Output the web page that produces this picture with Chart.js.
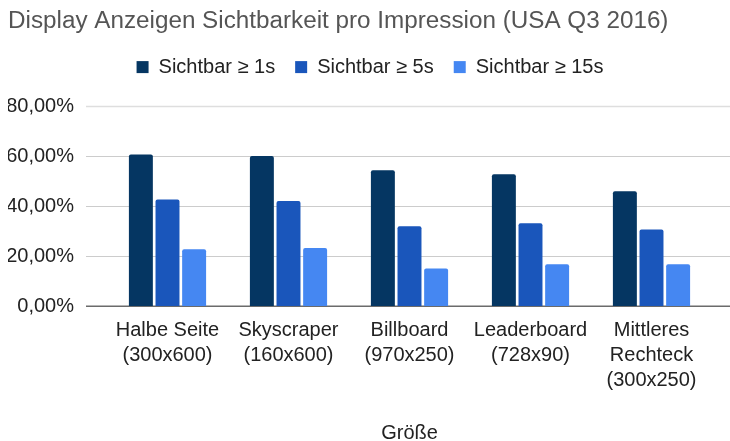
<!DOCTYPE html>
<html>
<head>
<meta charset="utf-8">
<script src="https://cdn.jsdelivr.net/npm/chart.js@4/dist/chart.umd.min.js"></script>
<style>
  html, body { margin: 0; padding: 0; background: #ffffff; }
  #wrap { width: 730px; height: 441px; position: relative; }
</style>
</head>
<body>
<div id="wrap"><canvas id="c" width="730" height="441"></canvas></div>
<script>
// ---- data ----
const titleText = "Display Anzeigen Sichtbarkeit pro Impression (USA Q3 2016)";
const xAxisTitle = "Größe";
const categories = [
  ["Halbe Seite", "(300x600)"],
  ["Skyscraper", "(160x600)"],
  ["Billboard", "(970x250)"],
  ["Leaderboard", "(728x90)"],
  ["Mittleres", "Rechteck", "(300x250)"]
];
const seriesNames = ["Sichtbar \u2265 1s", "Sichtbar \u2265 5s", "Sichtbar \u2265 15s"];
const visible1s  = [60.6, 60.0, 54.3, 52.7, 45.9];
const visible5s  = [42.6, 42.0, 31.9, 33.1, 30.6];
const visible15s = [22.7, 23.2, 15.0, 16.7, 16.7];
const yTicks = [0, 20, 40, 60, 80];

const colors = ["#053662", "#1a56bb", "#4587f2"];
const FONT = "'Liberation Sans', Arial, sans-serif";

const extendedGrid = {
  id: "extendedGrid",
  beforeDatasetsDraw(chart) {
    const ys = chart.scales.y;
    const ca = chart.chartArea;
    const ctx = chart.ctx;
    ctx.save();
    ys.ticks.forEach(t => {
      const py = Math.round(ys.getPixelForValue(t.value));
      ctx.beginPath();
      if (t.value === 0) {
        ctx.strokeStyle = "#6b6b6b";
        ctx.lineWidth = 1.5;
        ctx.moveTo(ca.left - 21, py + 0.25);
        ctx.lineTo(chart.width, py + 0.25);
      } else {
        ctx.strokeStyle = t.value === 80 ? "#dedede" : "#cccccc";
        ctx.lineWidth = t.value === 80 ? 1.5 : 1;
        ctx.moveTo(ca.left - 21, py + 0.5);
        ctx.lineTo(chart.width, py + 0.5);
      }
      ctx.stroke();
    });
    ctx.restore();
  }
};

const legendTweak = {
  id: "legendTweak",
  beforeInit(chart) {
    const lg = chart.legend;
    if (!lg) return;
    const origFit = lg.fit;
    lg.fit = function () {
      origFit.call(this);
      this.height += 19;
    };
    const origDraw = lg.draw;
    lg.draw = function (area) {
      const ctx = this.ctx;
      ctx.save();
      ctx.translate(10, 0);
      origDraw.call(this, area);
      ctx.restore();
    };
  }
};

const mk = (label, data, color) => ({
  label, data,
  backgroundColor: color,
  borderColor: color,
  borderWidth: 0,
  borderRadius: { topLeft: 2, topRight: 2 },
  borderSkipped: "bottom",
  categoryPercentage: 0.66,
  barPercentage: 0.9
});

new Chart(document.getElementById("c"), {
  type: "bar",
  data: {
    labels: categories,
    datasets: [
      mk(seriesNames[0], visible1s, colors[0]),
      mk(seriesNames[1], visible5s, colors[1]),
      mk(seriesNames[2], visible15s, colors[2])
    ]
  },
  options: {
    responsive: false,
    animation: false,
    devicePixelRatio: 1,
    layout: { padding: { left: 8, right: 18, top: 7, bottom: 0 } },
    plugins: {
      title: {
        display: true,
        text: titleText,
        align: "start",
        color: "#555555",
        font: { family: FONT, size: 24.25, weight: "normal" },
        padding: { top: 0, bottom: 1 }
      },
      legend: {
        display: true,
        position: "top",
        align: "center",
        labels: {
          boxWidth: 12,
          boxHeight: 12,
          padding: 20,
          color: "#222222",
          font: { family: FONT, size: 20 }
        }
      },
      tooltip: { enabled: false }
    },
    scales: {
      x: {
        grid: { display: false, drawTicks: false },
        border: { display: false },
        ticks: {
          color: "#222222",
          font: { family: FONT, size: 20, lineHeight: 1.25 },
          padding: 12,
          maxRotation: 0,
          autoSkip: false
        },
        title: {
          display: true,
          text: xAxisTitle,
          color: "#222222",
          font: { family: FONT, size: 20, lineHeight: 0.8 },
          padding: { top: 20, bottom: 0 }
        }
      },
      y: {
        min: 0,
        max: 80,
        afterBuildTicks(scale) { scale.ticks = yTicks.map(v => ({ value: v })); },
        afterFit(scale) { scale.width = 99; },
        grid: { display: false, drawTicks: false },
        border: { display: false },
        ticks: {
          color: "#222222",
          font: { family: FONT, size: 20 },
          padding: 33,
          callback: v => v.toFixed(2).replace(".", ",") + "%"
        }
      }
    }
  },
  plugins: [extendedGrid, legendTweak]
});
</script>
</body>
</html>
